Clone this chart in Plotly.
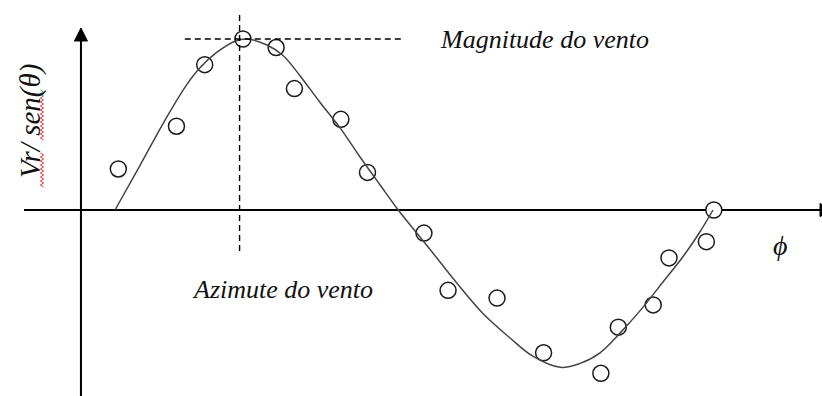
import plotly.graph_objects as go

# Fitted curve: Vr/sen(theta) against azimuth phi (degrees), normalised to the wind magnitude
curve_phi = [0, 15, 31, 43, 51, 61, 73, 79.5, 91.5, 101, 111, 123, 135.5, 147.5,
             159.5, 170.5, 188, 206, 221.5, 238, 251.5, 268, 280, 292, 304, 316,
             330, 342, 352, 360]
curve_val = [0, 0.26, 0.54, 0.73, 0.83, 0.92, 0.99, 1.0, 0.965, 0.905, 0.79, 0.635,
             0.48, 0.31, 0.148, 0, -0.21, -0.43, -0.605, -0.75, -0.855, -0.92,
             -0.897, -0.835, -0.72, -0.59, -0.42, -0.272, -0.13, 0]

# Observed radial velocities
obs_phi = [2, 37, 54, 77, 97, 108, 136, 152, 186, 200.5, 230, 258, 292.5, 303,
           324, 333.5, 356, 360.5]
obs_val = [0.24, 0.49, 0.85, 1.0, 0.95, 0.71, 0.53, 0.22, -0.135, -0.47, -0.515,
           -0.835, -0.955, -0.685, -0.555, -0.28, -0.185, 0]

# Wind direction and magnitude read from the fit
wind_azimuth = 75
wind_magnitude = 1.0

W, H = 822, 396
X0, X1 = -69.23, 425.62
Y0, Y1 = -1.0877, 1.2281
PXX = W / (X1 - X0)   # pixels per degree
PXY = H / (Y1 - Y0)   # pixels per unit
AXIS_X = -20.5        # where the vertical axis is drawn

fig = go.Figure()

fig.add_trace(go.Scatter(
    x=obs_phi, y=obs_val, mode="markers",
    marker=dict(symbol="circle", size=16, color="white",
                line=dict(color="#1a1a1a", width=1.5)),
    hoverinfo="skip", showlegend=False))

fig.add_trace(go.Scatter(
    x=curve_phi, y=curve_val, mode="lines",
    line=dict(color="#444", width=1.5, shape="spline", smoothing=1.0),
    hoverinfo="skip", showlegend=False))

shapes = []
# axes
shapes.append(dict(type="line", xref="x", yref="y", x0=X0 + 24 / PXX, x1=X1 + 5,
                   y0=0, y1=0, line=dict(color="black", width=2), layer="below"))
shapes.append(dict(type="line", xref="x", yref="y", x0=AXIS_X, x1=AXIS_X,
                   y0=Y0 - 0.05, y1=Y1 - 36 / PXY, line=dict(color="black", width=2),
                   layer="below"))
# arrowheads
tip_y = Y1 - 28 / PXY
base_y = tip_y - 13 / PXY
hw = 6.5 / PXX
shapes.append(dict(type="path", xref="x", yref="y",
                   path=f"M {AXIS_X},{tip_y} L {AXIS_X - hw},{base_y} L {AXIS_X + hw},{base_y} Z",
                   fillcolor="black", line=dict(color="black", width=1)))
base_x = X0 + 820 / PXX
hh = 6.5 / PXY
shapes.append(dict(type="path", xref="x", yref="y",
                   path=f"M {base_x + 13 / PXX},0 L {base_x},{hh} L {base_x},{-hh} Z",
                   fillcolor="black", line=dict(color="black", width=1)))
# guide lines for azimuth and magnitude
shapes.append(dict(type="line", xref="x", yref="y", x0=wind_azimuth, x1=wind_azimuth,
                   y0=-0.24, y1=1.158, line=dict(color="black", width=1.4, dash="6px,4px"),
                   layer="above"))
shapes.append(dict(type="line", xref="x", yref="y", x0=42, x1=173.5,
                   y0=wind_magnitude, y1=wind_magnitude,
                   line=dict(color="black", width=1.4, dash="6px,4px"), layer="above"))


def wavy(px, py0, py1, amp=1.6, step=2.0):
    """Vertical zig-zag underline in paper coordinates (pixel inputs)."""
    pts = []
    y = py0
    k = 0
    while y <= py1:
        pts.append((px + (amp if k % 2 else -amp), y))
        y += step
        k += 1
    d = "M " + " L ".join(f"{x / W:.5f},{1 - yy / H:.5f}" for x, yy in pts)
    return d


for (a, b, col) in [(153, 187, "#e8322e"), (98, 140, "#e8322e"), (90, 99, "#3a9a3a")]:
    shapes.append(dict(type="path", xref="paper", yref="paper", path=wavy(42, a, b),
                       line=dict(color=col, width=1)))

serif = dict(family="Liberation Serif, Times New Roman, serif", color="#111")


def px2paper(x, y):
    return x / W, 1 - y / H


annotations = []
x, y = px2paper(438, 40)
annotations.append(dict(xref="paper", yref="paper", x=x, y=y, xanchor="left",
                        yanchor="middle", showarrow=False,
                        text="<i>Magnitude do vento</i>", font=dict(size=26, **serif)))
x, y = px2paper(190, 289)
annotations.append(dict(xref="paper", yref="paper", x=x, y=y, xanchor="left",
                        yanchor="middle", showarrow=False,
                        text="<i>Azimute do vento</i>", font=dict(size=26, **serif)))
x, y = px2paper(780, 245)
annotations.append(dict(xref="paper", yref="paper", x=x, y=y, xanchor="center",
                        yanchor="middle", showarrow=False,
                        text="<i>ϕ</i>", font=dict(size=28, **serif)))
x, y = px2paper(30, 121)
annotations.append(dict(xref="paper", yref="paper", x=x, y=y, xanchor="center",
                        yanchor="middle", showarrow=False, textangle=-90,
                        text="<i>Vr/ sen(θ)</i>", font=dict(size=29, **serif)))

fig.update_layout(
    width=W, height=H,
    margin=dict(l=0, r=0, t=0, b=0),
    paper_bgcolor="white", plot_bgcolor="white",
    xaxis=dict(range=[X0, X1], visible=False, fixedrange=True),
    yaxis=dict(range=[Y0, Y1], visible=False, fixedrange=True),
    shapes=shapes, annotations=annotations, showlegend=False,
)

fig.write_html("out.html")
